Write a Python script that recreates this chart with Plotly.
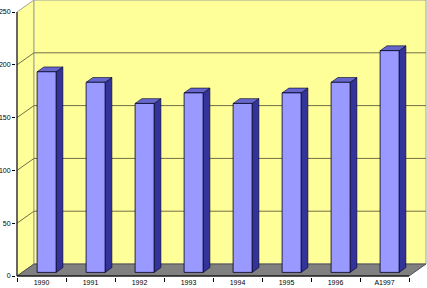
import plotly.graph_objects as go

categories = ["1990", "1991", "1992", "1993", "1994", "1995", "1996", "A1997"]
values = [190, 180, 160, 170, 160, 170, 180, 210]
y_ticks = [0, 50, 100, 150, 200, 250]

# geometry (in data units)
PX_X = 49.0          # px per category
PX_Y = 1.056         # px per value unit
DX = 17 / PX_X       # depth offset x
DY = 12 / PX_Y       # depth offset y
N = len(categories)
YMAX = 250
HW = 9.5 / PX_X      # bar half width
F1, F2 = 0.3, 0.7    # bar front/back depth fractions

WALL = "#FFFF99"
FLOOR = "#808080"
GRID = "#6f6f4a"
FRONT = "#9999FF"
SIDE = "#333399"
TOP = "#6666CC"

fig = go.Figure()

def poly(xs, ys, fill, line_color, lw=0.6, dash="solid"):
    fig.add_trace(go.Scatter(x=xs + [xs[0]], y=ys + [ys[0]], mode="lines", fill="toself",
                             fillcolor=fill, line=dict(color=line_color, width=lw, dash=dash),
                             hoverinfo="skip", showlegend=False))

def line(xs, ys, color, lw=1):
    fig.add_trace(go.Scatter(x=xs, y=ys, mode="lines", line=dict(color=color, width=lw),
                             hoverinfo="skip", showlegend=False))

# side wall
poly([0, 0, DX, DX], [0, YMAX, YMAX + DY, DY], WALL, "#a0a0a0", 1)
# back wall
poly([DX, DX, N + DX, N + DX], [DY, YMAX + DY, YMAX + DY, DY], WALL, "#a0a0a0", 1)
# floor
poly([0, N, N + DX, DX], [0, 0, DY, DY], FLOOR, "#505050", 1)

# gridlines
for v in y_ticks[1:-1]:
    line([0, DX, N + DX], [v, v + DY, v + DY], GRID, 1)

# axis lines
line([0, 0], [0, YMAX], "#000000", 1)
line([0, N], [0, 0], "#000000", 1)

# bars
for i, v in enumerate(values):
    c = i + 0.5
    xl1, xr1 = c - HW + F1 * DX, c + HW + F1 * DX
    xl2, xr2 = c - HW + F2 * DX, c + HW + F2 * DX
    y1, y2 = F1 * DY, F2 * DY
    poly([xr1, xr2, xr2, xr1], [y1, y2, v + y2, v + y1], SIDE, "#000022", 0.6)
    poly([xl1, xr1, xr2, xl2], [v + y1, v + y1, v + y2, v + y2], TOP, "#000022", 0.6)
    poly([xl1, xr1, xr1, xl1], [y1, y1, v + y1, v + y1], FRONT, "#000022", 0.8)

# invisible trace for tick-mark axis
fig.add_trace(go.Scatter(x=[0], y=[0], xaxis="x2", mode="markers", opacity=0,
                         hoverinfo="skip", showlegend=False))

L, B = 16, 11
xr = [-1 / PX_X, (427 - 17) / PX_X]
yr = [-1 / PX_Y, 276 / PX_Y]

font = dict(family="Liberation Sans, Arial, sans-serif", size=7, color="#000000")
fig.update_layout(
    width=427, height=288,
    margin=dict(l=L, r=0, t=0, b=B, pad=0),
    paper_bgcolor="white", plot_bgcolor="white",
    font=font,
    xaxis=dict(range=xr, tickvals=[i + 0.5 for i in range(N)], ticktext=categories,
               ticks="", showgrid=False, zeroline=False, showline=False,
               tickfont=font, fixedrange=True, automargin=False),
    xaxis2=dict(range=xr, overlaying="x", side="bottom", tickvals=list(range(N + 1)),
                ticks="outside", ticklen=4, tickcolor="#000000", showticklabels=False,
                showgrid=False, zeroline=False, showline=False, fixedrange=True,
                automargin=False),
    yaxis=dict(range=yr, tickvals=y_ticks, ticks="outside", ticklen=3, tickcolor="#000000",
               showgrid=False, zeroline=False, showline=False, tickfont=font, fixedrange=True,
               automargin=False),
)

fig.write_html("out.html")
